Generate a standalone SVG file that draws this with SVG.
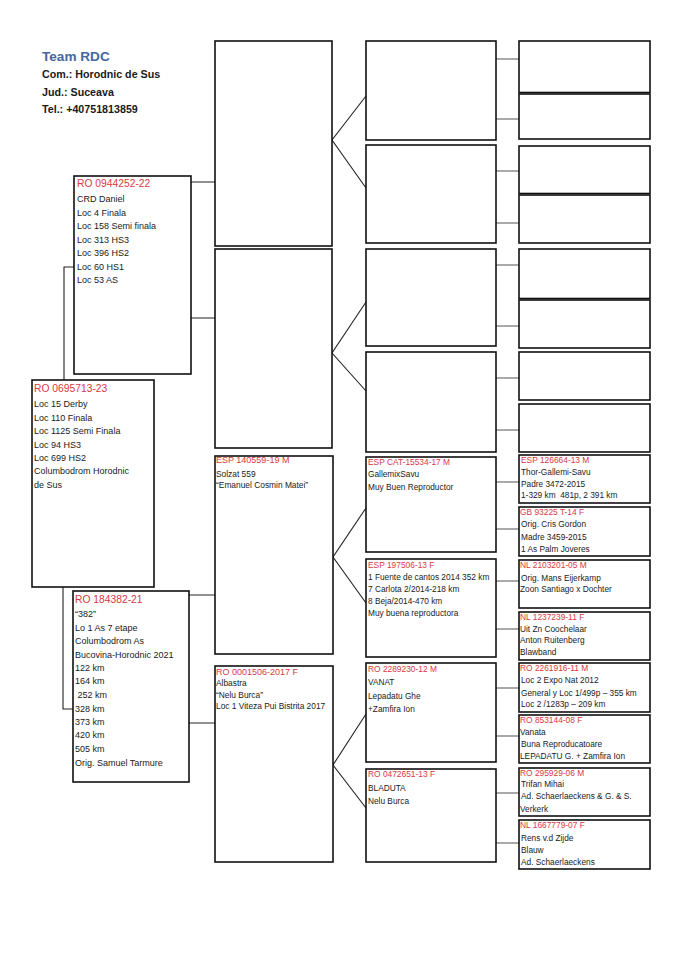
<svg xmlns="http://www.w3.org/2000/svg" width="685" height="968" viewBox="0 0 685 968">
<style>
.bx{fill:#fff;stroke:#111;stroke-width:1.6}
.cn{fill:none;stroke:#222;stroke-width:1.1}
.cg{fill:none;stroke:#555;stroke-width:1.1}
text{font-family:"Liberation Sans",Arial,sans-serif;fill:#1a1a1a}
.pre{white-space:pre}
.h1{font-size:13.6px;font-weight:bold;fill:#44679e}
.h2{font-size:10.7px;font-weight:bold}
.a{font-size:9px}
.aid{font-size:10.3px;fill:#d8393f}
.b{font-size:8.4px}
.bid{font-size:9px;fill:#d8393f}
.c{font-size:8.3px}
.cid{font-size:8.4px;fill:#d8393f}
</style>
<rect width="685" height="968" fill="#fff"/>
<g id="header">
<text class="h1" x="42" y="61">Team RDC</text>
<text class="h2" x="42" y="78">Com.: Horodnic de Sus</text>
<text class="h2" x="42" y="96">Jud.: Suceava</text>
<text class="h2" x="42" y="113">Tel.: +40751813859</text>
</g>
<g id="connectors">
<path class="cn" d="M64 380V267H74"/>
<path class="cn" d="M63 587V709H73"/>
<path class="cn" d="M191 182H215M191 318H215"/>
<path class="cn" d="M189 595H215M189 723H215"/>
<path class="cn" d="M366 96L332 140L366 188"/>
<path class="cn" d="M366 302L332 353L366 391"/>
<path class="cn" d="M366 508L333 557L366 603"/>
<path class="cn" d="M366 714L333 765L366 808"/>
<path class="cg" d="M496 59H519M496 119H519M496 171H519M496 223H519M496 265H519M496 326H519M496 378H519M496 430H519"/>
<path class="cg" d="M496 482H519M496 529H519M496 581H519M496 629H519M496 688H519M496 736H519M496 793H519M496 843H519"/>
</g>
<g id="n1">
<rect class="bx" x="74" y="176" width="117" height="198"/>
<text class="aid" x="77" y="187">RO 0944252-22</text>
<text class="a" x="77" y="202">CRD Daniel</text>
<text class="a" x="77" y="216">Loc 4 Finala</text>
<text class="a" x="77" y="229">Loc 158 Semi finala</text>
<text class="a" x="77" y="243">Loc 313 HS3</text>
<text class="a" x="77" y="256">Loc 396 HS2</text>
<text class="a" x="77" y="270">Loc 60 HS1</text>
<text class="a" x="77" y="283">Loc 53 AS</text>
</g>
<g id="n0">
<rect class="bx" x="32" y="380" width="122" height="207"/>
<text class="aid" x="34" y="392">RO 0695713-23</text>
<text class="a" x="34" y="407">Loc 15 Derby</text>
<text class="a" x="34" y="421">Loc 110 Finala</text>
<text class="a" x="34" y="434">Loc 1125 Semi Finala</text>
<text class="a" x="34" y="448">Loc 94 HS3</text>
<text class="a" x="34" y="461">Loc 699 HS2</text>
<text class="a" x="34" y="474">Columbodrom Horodnic</text>
<text class="a" x="34" y="488">de Sus</text>
</g>
<g id="n2">
<rect class="bx" x="73" y="591" width="116" height="191"/>
<text class="aid" x="75" y="603">RO 184382-21</text>
<text class="a" x="75" y="617">“382”</text>
<text class="a" x="75" y="631">Lo 1 As 7 etape</text>
<text class="a" x="75" y="644">Columbodrom As</text>
<text class="a" x="75" y="658">Bucovina-Horodnic 2021</text>
<text class="a" x="75" y="671">122 km</text>
<text class="a" x="75" y="684">164 km</text>
<text class="a pre" x="75" y="698" xml:space="preserve"> 252 km</text>
<text class="a" x="75" y="712">328 km</text>
<text class="a" x="75" y="725">373 km</text>
<text class="a" x="75" y="738">420 km</text>
<text class="a" x="75" y="752">505 km</text>
<text class="a" x="75" y="766">Orig. Samuel Tarmure</text>
</g>
<g id="n3"><rect class="bx" x="215" y="41" width="117" height="205"/></g>
<g id="n4"><rect class="bx" x="215" y="249" width="117" height="199"/></g>
<g id="n5">
<rect class="bx" x="215" y="456" width="118" height="198"/>
<text class="bid" x="216" y="463">ESP 140559-19 M</text>
<text class="b" x="216" y="477">Solzat 559</text>
<text class="b" x="216" y="488">“Emanuel Cosmin Matei”</text>
</g>
<g id="n6">
<rect class="bx" x="215" y="666" width="118" height="196"/>
<text class="bid" x="216" y="675">RO 0001506-2017 F</text>
<text class="b" x="216" y="686">Albastra</text>
<text class="b" x="216" y="698">“Nelu Burca”</text>
<text class="b" x="216" y="709">Loc 1 Viteza Pui Bistrita 2017</text>
</g>
<g id="n7"><rect class="bx" x="366" y="41" width="130" height="99"/></g>
<g id="n8"><rect class="bx" x="366" y="145" width="130" height="98"/></g>
<g id="n9"><rect class="bx" x="366" y="249" width="130" height="97"/></g>
<g id="n10"><rect class="bx" x="366" y="352" width="130" height="100"/></g>
<g id="n11">
<rect class="bx" x="366" y="457" width="130" height="95"/>
<text class="cid" x="368" y="465">ESP CAT-15534-17 M</text>
<text class="c" x="368" y="477">GallemixSavu</text>
<text class="c" x="368" y="490">Muy Buen Reproductor</text>
</g>
<g id="n12">
<rect class="bx" x="366" y="559" width="130" height="98"/>
<text class="cid" x="368" y="568">ESP 197506-13 F</text>
<text class="c" x="368" y="580">1 Fuente de cantos 2014 352 km</text>
<text class="c" x="368" y="592">7 Carlota 2/2014-218 km</text>
<text class="c" x="368" y="604">8 Beja/2014-470 km</text>
<text class="c" x="368" y="616">Muy buena reproductora</text>
</g>
<g id="n13">
<rect class="bx" x="366" y="663" width="130" height="99"/>
<text class="cid" x="368" y="672">RO 2289230-12 M</text>
<text class="c" x="368" y="685">VANAT</text>
<text class="c" x="368" y="699">Lepadatu Ghe</text>
<text class="c" x="368" y="712">+Zamfira Ion</text>
</g>
<g id="n14">
<rect class="bx" x="366" y="769" width="130" height="93"/>
<text class="cid" x="368" y="777">RO 0472651-13 F</text>
<text class="c" x="368" y="791">BLADUTA</text>
<text class="c" x="368" y="804">Nelu Burca</text>
</g>
<g id="n15"><rect class="bx" x="519" y="41" width="131" height="51.5"/></g>
<g id="n16"><rect class="bx" x="519" y="94" width="131" height="45"/></g>
<g id="n17"><rect class="bx" x="519" y="146" width="131" height="47.5"/></g>
<g id="n18"><rect class="bx" x="519" y="195" width="131" height="48"/></g>
<g id="n19"><rect class="bx" x="519" y="249" width="131" height="49.5"/></g>
<g id="n20"><rect class="bx" x="519" y="300" width="131" height="48"/></g>
<g id="n21"><rect class="bx" x="519" y="352" width="131" height="48"/></g>
<g id="n22"><rect class="bx" x="519" y="404" width="131" height="48"/></g>
<g id="n23">
<rect class="bx" x="519" y="455" width="131" height="48"/>
<text class="cid" x="521" y="463">ESP 126664-13 M</text>
<text class="c" x="521" y="475">Thor-Gallemi-Savu</text>
<text class="c" x="521" y="487">Padre 3472-2015</text>
<text class="c pre" x="521" y="498" xml:space="preserve">1-329 km  481p, 2 391 km</text>
</g>
<g id="n24">
<rect class="bx" x="519" y="507" width="131" height="49"/>
<text class="cid" x="520" y="515">GB 93225 T-14 F</text>
<text class="c" x="521" y="527">Orig. Cris Gordon</text>
<text class="c" x="521" y="540">Madre 3459-2015</text>
<text class="c" x="521" y="552">1 As Palm Joveres</text>
</g>
<g id="n25">
<rect class="bx" x="519" y="560" width="131" height="48"/>
<text class="cid" x="520" y="568">NL 2103201-05 M</text>
<text class="c" x="521" y="581">Orig. Mans Eijerkamp</text>
<text class="c" x="520" y="592">Zoon Santiago x Dochter</text>
</g>
<g id="n26">
<rect class="bx" x="519" y="612" width="131" height="48"/>
<text class="cid" x="520" y="620">NL 1237239-11 F</text>
<text class="c" x="520" y="632">Uit Zn Coochelaar</text>
<text class="c" x="520" y="643">Anton Ruitenberg</text>
<text class="c" x="520" y="655">Blawband</text>
</g>
<g id="n27">
<rect class="bx" x="519" y="663" width="131" height="49"/>
<text class="cid" x="520" y="671">RO 2261916-11 M</text>
<text class="c" x="521" y="683">Loc 2 Expo Nat 2012</text>
<text class="c" x="521" y="696">General y Loc 1/499p – 355 km</text>
<text class="c" x="521" y="707">Loc 2 /1283p – 209 km</text>
</g>
<g id="n28">
<rect class="bx" x="519" y="715" width="131" height="48"/>
<text class="cid" x="520" y="723">RO 853144-08 F</text>
<text class="c" x="520" y="735">Vanata</text>
<text class="c" x="521" y="747">Buna Reproducatoare</text>
<text class="c" x="520" y="759">LEPADATU G. + Zamfira Ion</text>
</g>
<g id="n29">
<rect class="bx" x="519" y="768" width="131" height="48"/>
<text class="cid" x="520" y="776">RO 295929-06 M</text>
<text class="c" x="521" y="787">Trifan Mihai</text>
<text class="c" x="521" y="799">Ad. Schaerlaeckens &amp; G. &amp; S.</text>
<text class="c" x="520" y="812">Verkerk</text>
</g>
<g id="n30">
<rect class="bx" x="519" y="820" width="131" height="49"/>
<text class="cid" x="520" y="828">NL 1667779-07 F</text>
<text class="c" x="521" y="841">Rens v.d Zijde</text>
<text class="c" x="521" y="853">Blauw</text>
<text class="c" x="521" y="865">Ad. Schaerlaeckens</text>
</g>
</svg>
